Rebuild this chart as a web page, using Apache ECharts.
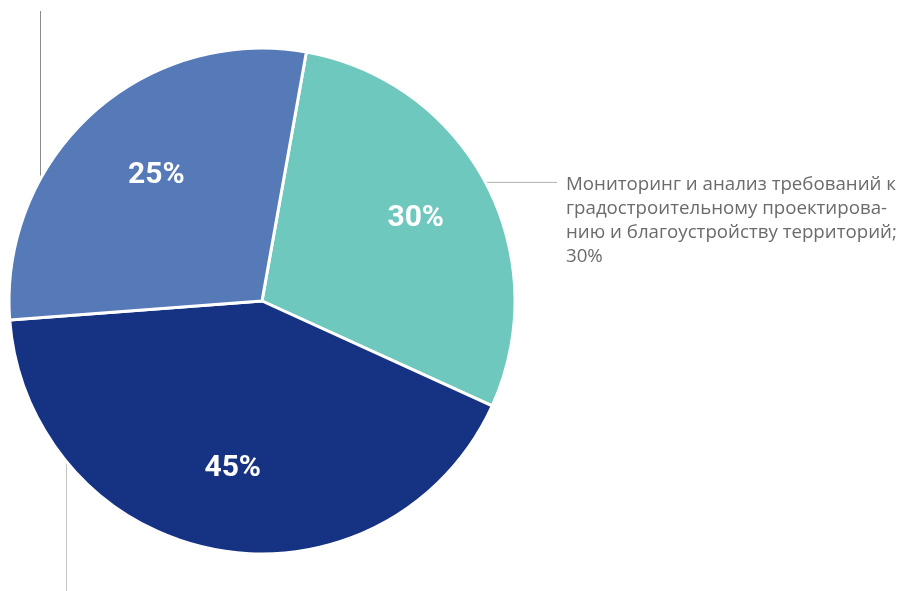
<!DOCTYPE html>
<html>
<head>
<meta charset="utf-8">
<style>
  html, body { margin: 0; padding: 0; background: #ffffff; }
  #chart { width: 898px; height: 591px; }
</style>
<script src="https://cdn.jsdelivr.net/npm/echarts@6/dist/echarts.min.js"></script>
</head>
<body>
<div id="chart"></div>
<script>
// ---- data ----
const categories = [
  'Мониторинг и анализ требований к градостроительному проектированию и благоустройству территорий',
  'Сегмент 45%',
  'Сегмент 25%'
];
// slice sizes as drawn in the picture (share of the full circle)
const sliceShares = [29, 42, 29];
// percentage texts printed on the slices
const percentLabels = ['30%', '45%', '25%'];
// outer label texts
const outerLabels = [
  'Мониторинг и анализ требований к\nградостроительному проектирова-\nнию и благоустройству территорий;\n30%',
  '45%',
  '25%'
];
const sliceColors = ['#6FC8BE', '#163383', '#5679B8'];

// ---- layout ----
const CX = 262, CY = 301, R = 253;
const START = 79.9;

const chart = echarts.init(document.getElementById('chart'), null, { renderer: 'canvas' });

const lineColors = ['#b0b0b0', '#c4c4c4', '#8c8c8c'];
const innerOffsets = [[1, -2], [1, -2], [10, 2]];

const mainData = sliceShares.map((v, i) => ({
  name: categories[i],
  value: v,
  itemStyle: { color: sliceColors[i] },
  labelLine: { lineStyle: { color: lineColors[i] } }
}));
const overlayData = sliceShares.map((v, i) => ({
  name: categories[i],
  value: v,
  label: { offset: innerOffsets[i] }
}));

chart.setOption({
  animation: false,
  backgroundColor: '#ffffff',
  series: [
    {
      type: 'pie',
      center: [CX, CY],
      radius: R,
      startAngle: START,
      clockwise: true,
      avoidLabelOverlap: false,
      silent: true,
      emphasis: { disabled: true },
      itemStyle: { borderColor: '#ffffff', borderWidth: 3 },
      label: {
        show: true,
        position: 'outside',
        formatter: p => outerLabels[p.dataIndex],
        color: '#6b6b6b',
        fontSize: 18.7,
        lineHeight: 24,
        fontFamily: 'Open Sans',
        align: 'left'
      },
      labelLine: {
        show: true,
        length: 0,
        length2: 71,
        smooth: false,
        lineStyle: { color: '#b0b0b0', width: 1 }
      },
      labelLayout: function (params) {
        const i = params.dataIndex;
        if (i === 0) {
          const p0 = params.labelLinePoints[0];
          const py = p0[1] - 1;
          return {
            x: p0[0] + 80,
            y: py - 10,
            align: 'left',
            verticalAlign: 'top',
            labelLinePoints: [[p0[0], py], [p0[0], py], [p0[0] + 71, py]]
          };
        } else if (i === 1) {
          const lx = 66.5;
          const ye = CY + Math.sqrt(R * R - (lx - CX) * (lx - CX)) - 2;
          return {
            x: lx,
            y: 640,
            align: 'left',
            verticalAlign: 'top',
            labelLinePoints: [[lx, ye], [lx, ye], [lx, 630]]
          };
        } else {
          const lx = 40.5;
          const ye = CY - Math.sqrt(R * R - (lx - CX) * (lx - CX)) + 2;
          return {
            x: lx,
            y: -30,
            align: 'left',
            verticalAlign: 'bottom',
            labelLinePoints: [[lx, ye], [lx, ye], [lx, 11]]
          };
        }
      },
      data: mainData
    },
    {
      type: 'pie',
      center: [CX, CY],
      radius: [86, R],
      startAngle: START,
      clockwise: true,
      silent: true,
      z: 5,
      emphasis: { disabled: true },
      itemStyle: { color: 'rgba(0,0,0,0)', borderWidth: 0 },
      label: {
        show: true,
        position: 'inside',
        formatter: p => percentLabels[p.dataIndex],
        color: '#ffffff',
        fontSize: 30,
        fontWeight: 'bold',
        fontFamily: 'Roboto'
      },
      labelLine: { show: false },
      data: overlayData
    }
  ]
});
</script>
</body>
</html>
